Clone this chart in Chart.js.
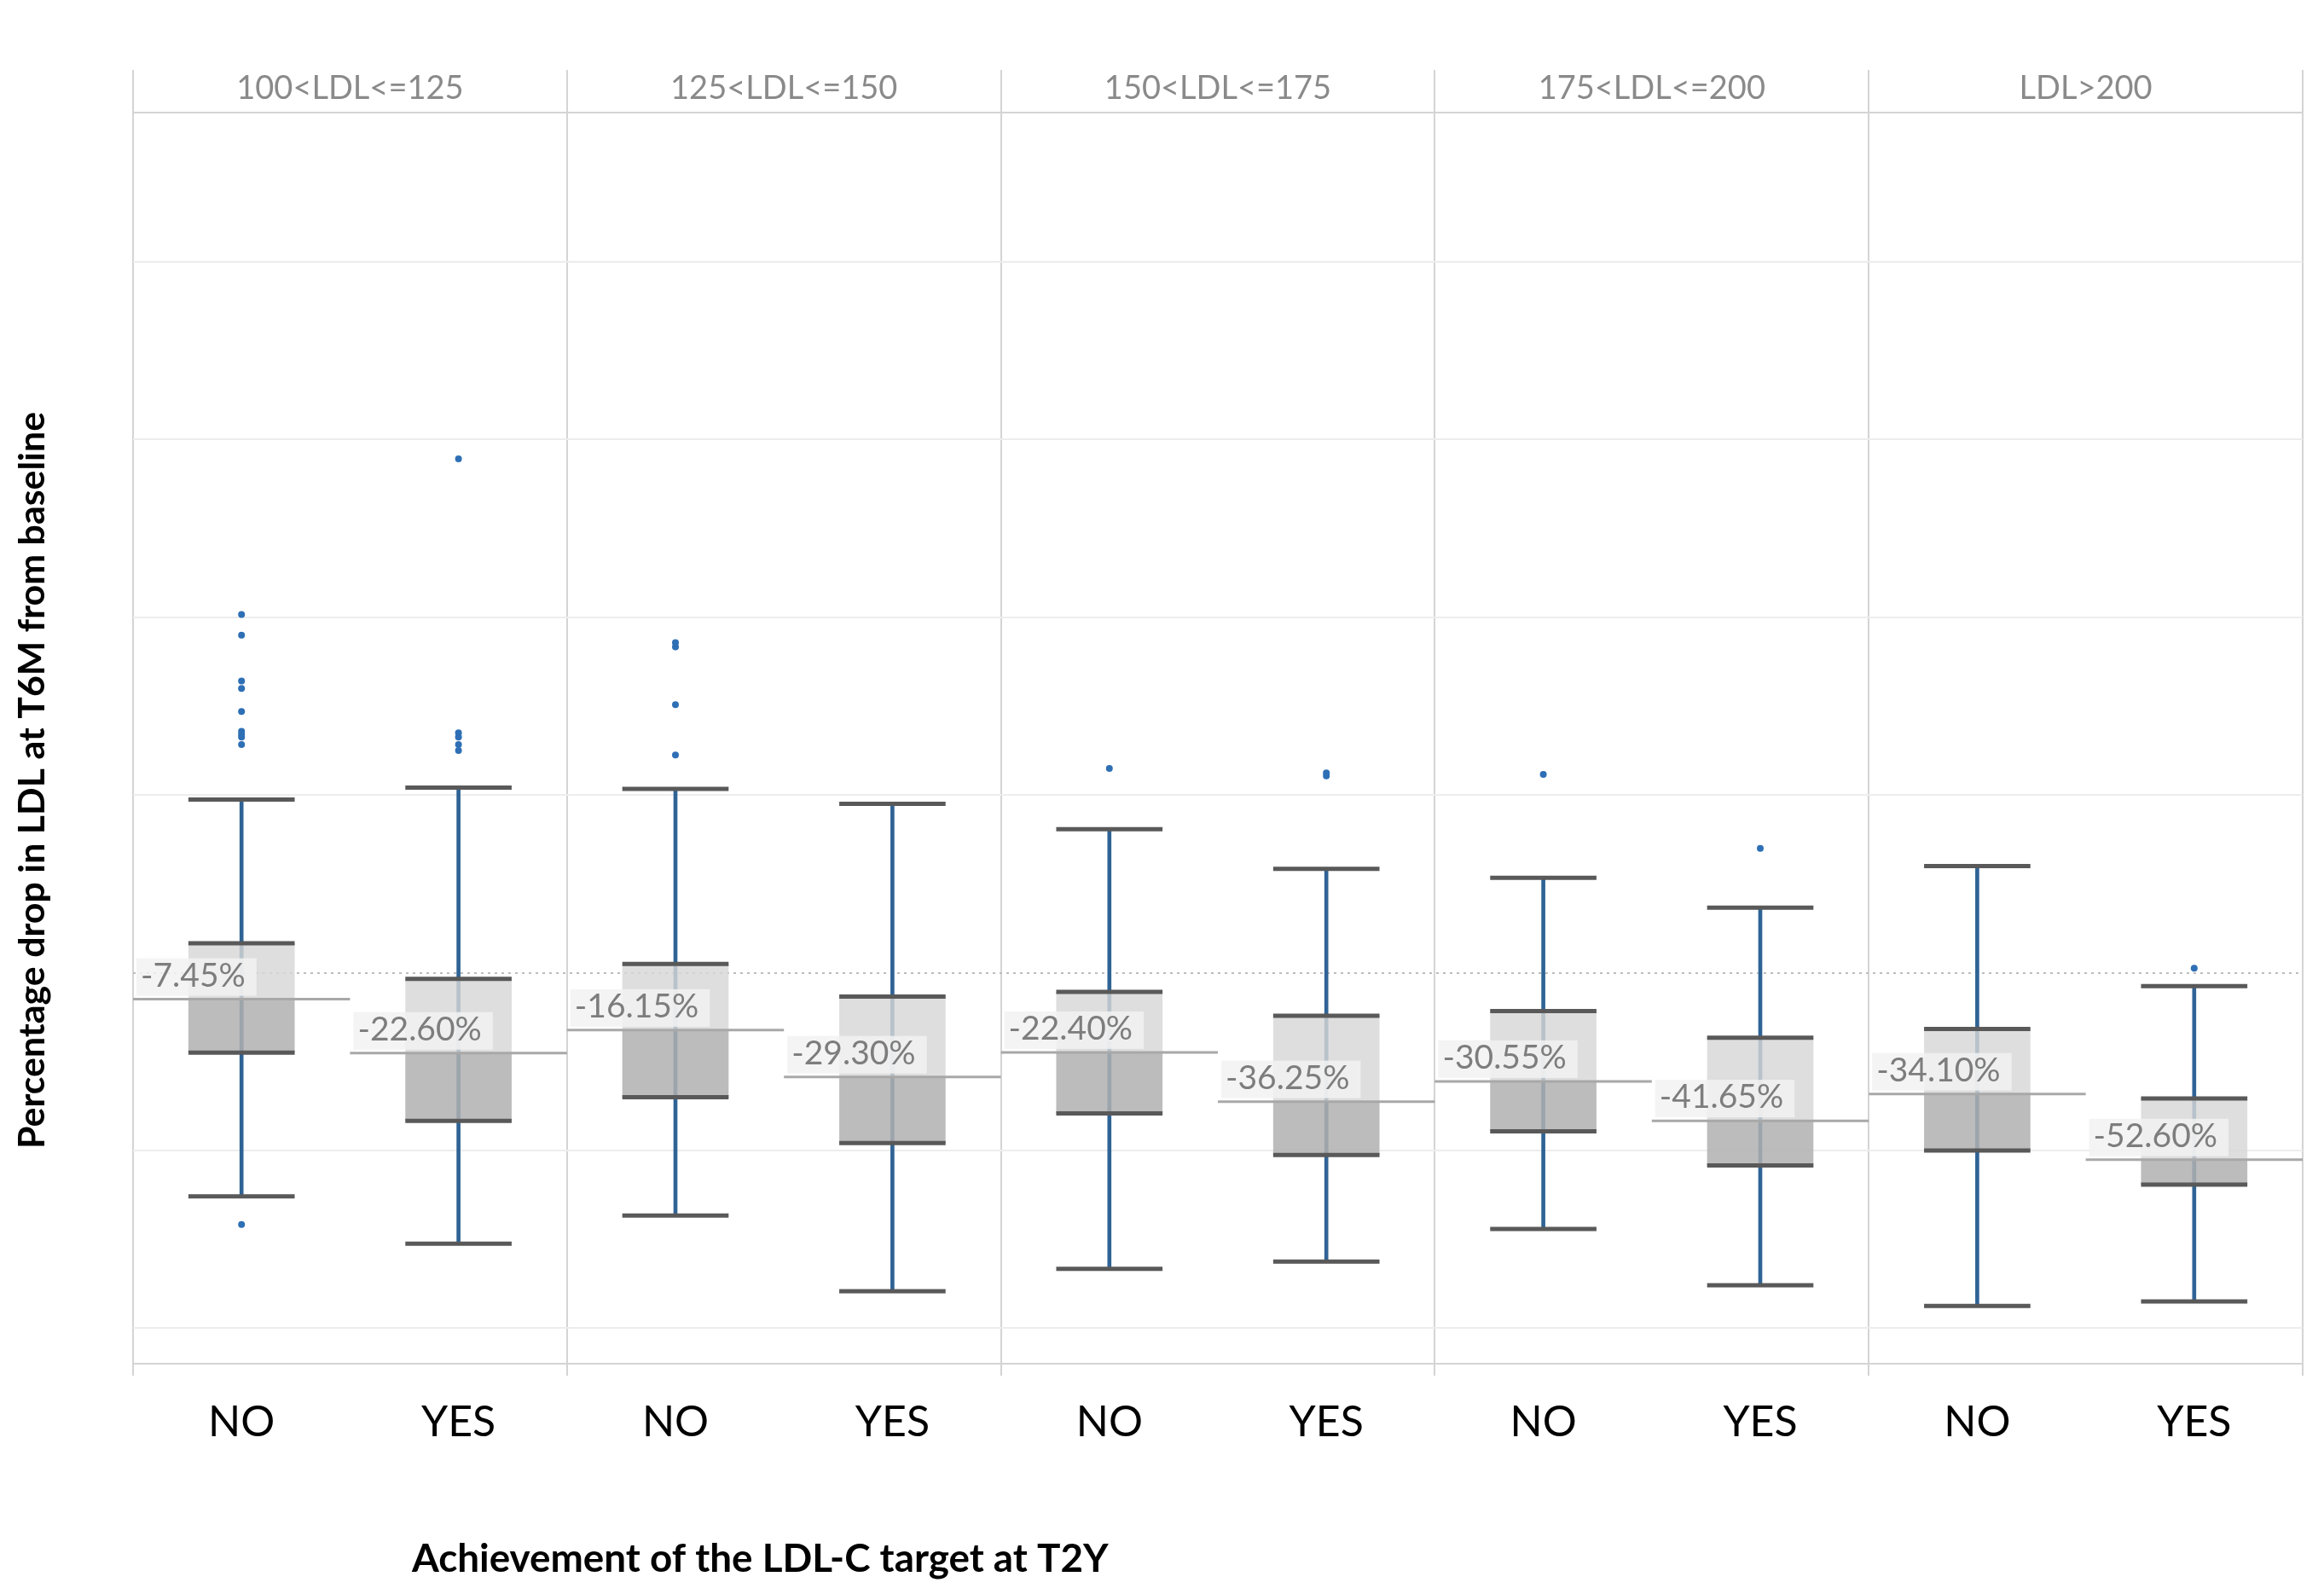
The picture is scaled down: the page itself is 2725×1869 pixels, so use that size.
<!DOCTYPE html>
<html>
<head>
<meta charset="utf-8">
<script src="https://cdn.jsdelivr.net/npm/chart.js@4.4.1/dist/chart.umd.min.js"></script>
<style>
html, body { margin: 0; padding: 0; background: #fff; }
#wrap { position: relative; width: 2725px; height: 1869px; }
</style>
</head>
<body>
<div id="wrap"><canvas id="ldlChart"></canvas></div>
<script>
// panels (baseline LDL classes) and groups inside each panel
const panels = ['100<LDL<=125', '125<LDL<=150', '150<LDL<=175', '175<LDL<=200', 'LDL>200'];
const groups = ['NO', 'YES'];

// box plot values, in %, one per category (NO, YES, NO, YES, ...)
const medians     = [-7.45, -22.60, -16.15, -29.30, -22.40, -36.25, -30.55, -41.65, -34.10, -52.60];
const q3          = [8.3, -1.7, 2.5, -6.7, -5.4, -12.1, -10.8, -18.3, -15.8, -35.4];
const q1          = [-22.5, -41.7, -35.0, -47.9, -39.6, -51.25, -44.6, -54.2, -50.0, -59.6];
const whiskerHigh = [48.75, 52.1, 51.7, 47.5, 40.4, 29.2, 26.7, 18.3, 30.0, -3.75];
const whiskerLow  = [-62.9, -76.25, -68.3, -89.6, -83.3, -81.25, -72.1, -87.9, -93.75, -92.5];
const outliers = [
    [100.8, 95.0, 82.1, 80.0, 73.5, 67.9, 67.1, 66.3, 64.2, -70.8],
    [144.6, 67.5, 66.3, 64.2, 62.5],
    [92.9, 91.7, 75.4, 61.25],
    [],
    [57.5],
    [56.25, 55.4],
    [55.8],
    [35.0],
    [],
    [1.25]
];

const yMin = -110;
const yMax = 242;
const yGrid = [-100, -50, 0, 50, 100, 150, 200];

const yTitle = 'Percentage drop in LDL at T6M from baseline';
const xTitle = 'Achievement of the LDL-C target at T2Y';

const categories = panels.flatMap(() => groups);
const idx = categories.map((_, i) => i);
// panel borders sit between every second category
const borders = panels.map((_, p) => p * groups.length - 0.5).concat([categories.length - 0.5]);

function fitFont(ctx, text, weight, family, target) {
    ctx.font = weight + ' 40px ' + family;
    const w = ctx.measureText(text).width;
    return weight + ' ' + (40 * target / w).toFixed(1) + 'px ' + family;
}

const annotations = {
    id: 'annotations',
    afterDatasetsDraw(chart) {
        const ctx = chart.ctx;
        const x = chart.scales.x, y = chart.scales.y;
        const half = (x.getPixelForValue(1) - x.getPixelForValue(0)) / 2;
        ctx.save();
        ctx.font = '39px Lato';
        ctx.textBaseline = 'bottom';
        ctx.textAlign = 'left';
        medians.forEach((m, i) => {
            const text = m.toFixed(2) + '%';
            const left = x.getPixelForValue(i) - half + 4;
            const py = y.getPixelForValue(m);
            const w = ctx.measureText(text).width;
            ctx.fillStyle = 'rgba(242,242,242,0.85)';
            ctx.fillRect(left, py - 48, w + 18, 44);
            ctx.fillStyle = '#7d7d7d';
            ctx.fillText(text, left + 5, py - 8);
        });
        ctx.restore();
    },
    afterDraw(chart) {
        const ctx = chart.ctx;
        ctx.save();
        ctx.fillStyle = '#000';
        ctx.textBaseline = 'middle';
        ctx.font = fitFont(ctx, yTitle, 'bold', 'Lato', 864);
        ctx.translate(38, 915);
        ctx.rotate(-Math.PI / 2);
        ctx.textAlign = 'center';
        ctx.fillText(yTitle, 0, 0);
        ctx.restore();

        ctx.save();
        ctx.fillStyle = '#000';
        ctx.textBaseline = 'middle';
        ctx.textAlign = 'left';
        ctx.font = fitFont(ctx, xTitle, 'bold', 'Lato', 817);
        ctx.fillText(xTitle, 483, 1828);
        ctx.restore();
    }
};

new Chart(document.getElementById('ldlChart'), {
    type: 'bar',
    data: {
        datasets: [
            {
                label: 'whisker',
                data: idx.map(i => ({ x: i, y: [whiskerLow[i], whiskerHigh[i]] })),
                backgroundColor: '#2f6395',
                barThickness: 4,
                grouped: false,
                order: 5
            },
            // x ticks also sit on panel borders, so the bar "slot" is half a category:
            // 0.98 of that gives a box 0.49 of the category wide
            {
                label: 'upper box',
                data: idx.map(i => ({ x: i, y: [medians[i], q3[i]] })),
                backgroundColor: 'rgba(215,215,215,0.82)',
                barPercentage: 0.98,
                categoryPercentage: 1,
                grouped: false,
                order: 4
            },
            {
                label: 'lower box',
                data: idx.map(i => ({ x: i, y: [q1[i], medians[i]] })),
                backgroundColor: 'rgba(176,176,176,0.85)',
                barPercentage: 0.98,
                categoryPercentage: 1,
                grouped: false,
                order: 4
            },
            {
                type: 'line',
                label: 'outliers',
                data: outliers.flatMap((arr, i) => arr.map(v => ({ x: i, y: v }))),
                showLine: false,
                pointRadius: 4,
                pointBackgroundColor: '#2e6fb5',
                pointBorderWidth: 0,
                order: 3
            },
            {
                type: 'line',
                label: 'hinges',
                data: idx.flatMap(i => [whiskerLow[i], q1[i], q3[i], whiskerHigh[i]].map(v => ({ x: i, y: v }))),
                showLine: false,
                pointStyle: 'line',
                pointRadius: ctx => ctx.chart.scales.x.width * 0.0245,
                pointBorderColor: '#595959',
                pointBorderWidth: 5,
                order: 2
            },
            {
                type: 'line',
                label: 'median',
                data: idx.map(i => ({ x: i, y: medians[i] })),
                showLine: false,
                pointStyle: 'line',
                pointRadius: ctx => ctx.chart.scales.x.width / 20,
                pointBorderColor: '#a8a8a8',
                pointBorderWidth: 3,
                order: 1
            }
        ]
    },
    options: {
        responsive: true,
        maintainAspectRatio: false,
        devicePixelRatio: 1,
        animation: false,
        events: [],
        layout: { padding: { left: 156, right: 22, top: 82, bottom: 0 } },
        plugins: { legend: { display: false }, tooltip: { enabled: false } },
        scales: {
            x: {
                type: 'linear',
                min: -0.5,
                max: categories.length - 0.5,
                offset: false,
                afterBuildTicks: s => {
                    s.ticks = idx.map(i => ({ value: i }))
                        .concat(borders.map(b => ({ value: b })))
                        .sort((a, b) => a.value - b.value);
                },
                afterFit: s => { s.height = 270; },
                grid: {
                    offset: false,
                    drawOnChartArea: false,
                    tickLength: 14,
                    lineWidth: 2,
                    color: ctx => ctx.tick && Number.isInteger(ctx.tick.value) ? 'transparent' : '#d4d4d4'
                },
                border: { display: true, color: '#d4d4d4', width: 2 },
                ticks: {
                    color: '#000',
                    font: { size: 50, family: 'Lato' },
                    padding: 25,
                    maxRotation: 0,
                    autoSkip: false,
                    callback: v => Number.isInteger(v) ? categories[v] : ''
                }
            },
            x2: {
                type: 'category',
                labels: panels,
                position: 'top',
                offset: true,
                afterFit: s => { s.height = 50; },
                grid: {
                    offset: true,
                    drawOnChartArea: true,
                    tickLength: 50,
                    lineWidth: 2,
                    color: '#d4d4d4'
                },
                border: { display: true, color: '#d4d4d4', width: 2 },
                ticks: {
                    color: '#8a8a8a',
                    font: { size: 38, family: 'Lato' },
                    padding: -45,
                    maxRotation: 0,
                    autoSkip: false
                }
            },
            y: {
                min: yMin,
                max: yMax,
                afterFit: s => { s.width = 0; },
                afterBuildTicks: s => { s.ticks = yGrid.map(v => ({ value: v })); },
                ticks: { display: false },
                grid: {
                    drawTicks: false,
                    lineWidth: 2,
                    color: ctx => ctx.tick && ctx.tick.value === 0 ? '#bcbcbc' : '#ededed'
                },
                border: {
                    display: false,
                    dash: ctx => ctx.tick && ctx.tick.value === 0 ? [3, 5] : []
                }
            }
        }
    },
    plugins: [annotations]
});
</script>
</body>
</html>
